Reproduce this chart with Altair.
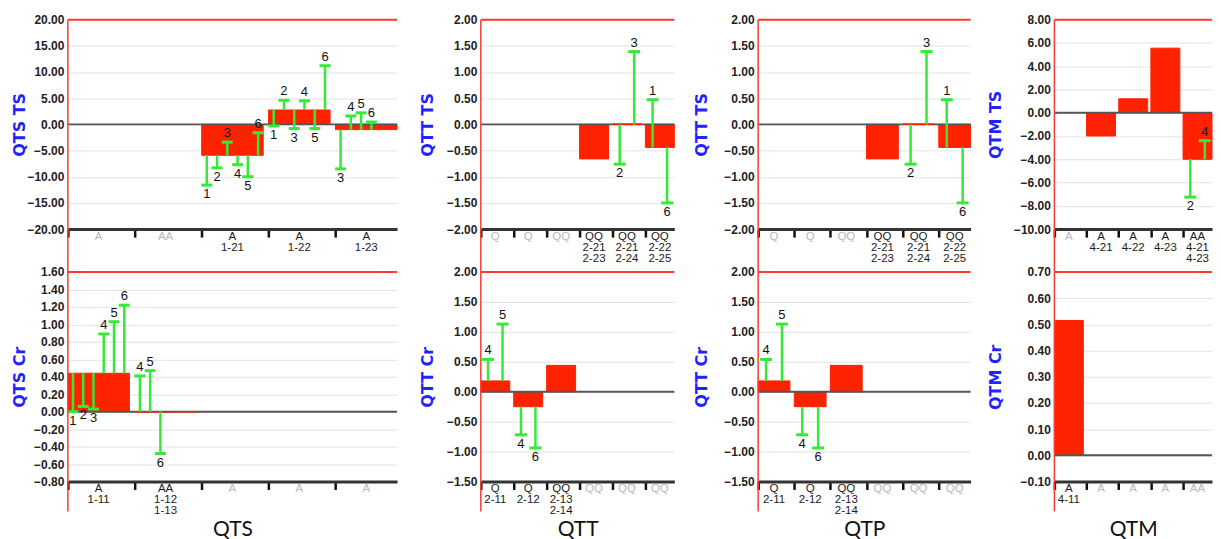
import altair as alt
import pandas as pd

BAR_RED = "#ff2200"
FRAME_RED = "#ff3b2f"
GREEN = "#35ea35"
TITLE_BLUE = "#1f24ff"

# ---------------- data ----------------
# QTS TS
qts_ts_cats = ["A#1", "AA#2", "A|1-21", "A|1-22", "A|1-23"]
qts_ts_bars = [None, None, -5.9, 2.75, -1.0]
qts_ts_err_cat = ["A|1-21"] * 6 + ["A|1-22"] * 6 + ["A|1-23"] * 4
qts_ts_err_slot = [1, 2, 3, 4, 5, 6, 1, 2, 3, 4, 5, 6, 1, 2, 3, 4]
qts_ts_err_lab = ["1", "2", "3", "4", "5", "6", "1", "2", "3", "4", "5", "6", "3", "4", "5", "6"]
qts_ts_err_end = [-11.6, -8.3, -3.4, -7.7, -10.0, -1.6,
                  -0.3, 4.6, -0.8, 4.5, -0.8, 11.2,
                  -8.5, 1.6, 2.2, 0.45]
qts_ts_ticks = [-20, -15, -10, -5, 0, 5, 10, 15, 20]

# QTS Cr
qts_cr_cats = ["A|1-11", "AA|1-12|1-13", "A#3", "A#4", "A#5"]
qts_cr_bars = [0.44, 0.0, None, None, None]
qts_cr_err_cat = ["A|1-11"] * 6 + ["AA|1-12|1-13"] * 3
qts_cr_err_slot = [1, 2, 3, 4, 5, 6, 1, 2, 3]
qts_cr_err_lab = ["1", "2", "3", "4", "5", "6", "4", "5", "6"]
qts_cr_err_end = [0.0, 0.06, 0.03, 0.89, 1.03, 1.22, 0.41, 0.47, -0.48]
qts_cr_ticks = [-0.8, -0.6, -0.4, -0.2, 0.0, 0.2, 0.4, 0.6, 0.8, 1.0, 1.2, 1.4, 1.6]

# QTT TS (also shown for QTP)
qtt_ts_cats = ["Q#1", "Q#2", "QQ#3", "QQ|2-21|2-23", "QQ|2-21|2-24", "QQ|2-22|2-25"]
qtt_ts_bars = [None, None, None, -0.66, 0.0, -0.44]
qtt_ts_err_cat = ["QQ|2-21|2-24", "QQ|2-21|2-24", "QQ|2-22|2-25", "QQ|2-22|2-25"]
qtt_ts_err_slot = [1, 2, 1, 2]
qtt_ts_err_lab = ["2", "3", "1", "6"]
qtt_ts_err_end = [-0.76, 1.39, 0.47, -1.50]
qtt_ts_ticks = [-2.0, -1.5, -1.0, -0.5, 0.0, 0.5, 1.0, 1.5, 2.0]

# QTT Cr (also shown for QTP)
qtt_cr_cats = ["Q|2-11", "Q|2-12", "QQ|2-13|2-14", "QQ#4", "QQ#5", "QQ#6"]
qtt_cr_bars = [0.18, -0.25, 0.44, None, None, None]
qtt_cr_err_cat = ["Q|2-11", "Q|2-11", "Q|2-12", "Q|2-12"]
qtt_cr_err_slot = [1, 2, 1, 2]
qtt_cr_err_lab = ["4", "5", "4", "6"]
qtt_cr_err_end = [0.54, 1.13, -0.72, -0.94]
qtt_cr_ticks = [-1.5, -1.0, -0.5, 0.0, 0.5, 1.0, 1.5, 2.0]

# QTM TS
qtm_ts_cats = ["A#1", "A|4-21", "A|4-22", "A|4-23", "AA|4-21|4-23"]
qtm_ts_bars = [None, -2.0, 1.2, 5.55, -4.0]
qtm_ts_err_cat = ["AA|4-21|4-23", "AA|4-21|4-23"]
qtm_ts_err_slot = [1, 2]
qtm_ts_err_lab = ["2", "4"]
qtm_ts_err_end = [-7.25, -2.4]
qtm_ts_ticks = [-10, -8, -6, -4, -2, 0, 2, 4, 6, 8]

# QTM Cr
qtm_cr_cats = ["A|4-11", "A#2", "A#3", "A#4", "AA#5"]
qtm_cr_bars = [0.515, None, None, None, None]
qtm_cr_err_cat = []
qtm_cr_err_slot = []
qtm_cr_err_lab = []
qtm_cr_err_end = []
qtm_cr_ticks = [-0.1, 0.0, 0.1, 0.2, 0.3, 0.4, 0.5, 0.6, 0.7]

H = 210
W = [330, 194, 213, 158]
TITLE_X = [-40, -45, -49, -51]


def panel(cats, bars, ecat, eslot, elab, eend, ticks, ytitle, width, title_x,
          nslots, band, cap, xtitle=None, left_ext=30):
    n = len(cats)
    idx_of = {c: i for i, c in enumerate(cats)}
    lab_df = pd.DataFrame({
        "idx": list(range(n)),
        "label": [c.split("#")[0] for c in cats],
        "grey": ["#" in c for c in cats],
    })
    bar_df = pd.DataFrame({"idx": list(range(n)), "val": bars}).dropna()
    start = dict(zip(bar_df["idx"], bar_df["val"]))
    err_df = pd.DataFrame({"idx": [idx_of[c] for c in ecat], "slot": eslot,
                           "lab": elab, "end": eend})
    if len(err_df):
        err_df["start"] = err_df["idx"].map(start)

    yscale = alt.Scale(domain=[min(ticks), max(ticks)], nice=False)
    yaxis = alt.Axis(
        values=ticks, grid=True, gridColor="#e3e3e3", gridWidth=1,
        ticks=False, domain=False, format=".2f",
        labelFont="Liberation Sans", labelFontSize=12, labelFontWeight="bold",
        labelColor="#222222", labelPadding=4,
        title=ytitle, titleColor=TITLE_BLUE, titleFont="DejaVu Sans",
        titleFontSize=16, titleFontWeight="bold",
        titleX=title_x, titleY=H / 2,
    )
    xscale = alt.Scale(domain=[0, n - 1 + band], nice=False, zero=False)
    xkw = dict(values=list(range(n)), labels=False, ticks=True, tickColor="#111111",
               tickWidth=2.5, tickSize=8, domainColor="#333333", domainWidth=3,
               grid=False)
    if xtitle:
        xaxis = alt.Axis(title=xtitle, titleFont="Lato", titleFontSize=21,
                         titleFontWeight="normal", titleColor="#111111",
                         titleX=width / 2, titleY=37, **xkw)
    else:
        xaxis = alt.Axis(title=None, **xkw)

    def X(f):
        return alt.X(f, type="quantitative", scale=xscale, axis=xaxis)

    def Y(f):
        return alt.Y(f, type="quantitative", scale=yscale, axis=yaxis)

    layers = []
    layers.append(
        alt.Chart(bar_df).transform_calculate(xe=f"datum.idx + {band}", base="0")
        .mark_bar(color=BAR_RED, stroke=BAR_RED, strokeWidth=1)
        .encode(x=X("idx"), x2="xe:Q", y=Y("val"), y2="base:Q")
    )
    layers.append(
        alt.Chart(pd.DataFrame({"val": [0.0]})).mark_rule(color="#555555", strokeWidth=2)
        .encode(y=Y("val"))
    )
    flat = bar_df[bar_df["val"] == 0]
    if len(flat):
        layers.append(
            alt.Chart(flat).transform_calculate(xe=f"datum.idx + {band}", base="0")
            .mark_bar(color=BAR_RED, stroke=BAR_RED, strokeWidth=1.5)
            .encode(x=X("idx"), x2="xe:Q", y=Y("val"), y2="base:Q")
        )
    if len(err_df):
        calc = f"datum.idx + (datum.slot - 0.5) * {band} / {nslots}"
        up = err_df[err_df["end"] >= err_df["start"]]
        down = err_df[err_df["end"] < err_df["start"]]
        layers.append(
            alt.Chart(err_df).transform_calculate(ex=calc)
            .mark_rule(color=GREEN, strokeWidth=2.5)
            .encode(x=X("ex"), y=Y("start"), y2="end:Q")
        )
        layers.append(
            alt.Chart(err_df).transform_calculate(ex=calc)
            .mark_tick(color=GREEN, thickness=3, size=cap, orient="horizontal", opacity=1)
            .encode(x=X("ex"), y=Y("end"))
        )
        if len(up):
            layers.append(
                alt.Chart(up).transform_calculate(ex=calc)
                .mark_text(baseline="bottom", dy=-2, font="Liberation Sans",
                           fontSize=13, color="#111111")
                .encode(x=X("ex"), y=Y("end"), text="lab:N")
            )
        if len(down):
            layers.append(
                alt.Chart(down).transform_calculate(ex=calc)
                .mark_text(baseline="top", dy=3, font="Liberation Sans",
                           fontSize=13, color="#111111")
                .encode(x=X("ex"), y=Y("end"), text="lab:N")
            )
    # category labels under the axis
    layers.append(
        alt.Chart(lab_df).transform_calculate(lx=f"datum.idx + {band} / 2")
        .mark_text(baseline="top", lineBreak="|", font="Liberation Sans",
                   fontSize=11.5, lineHeight=11)
        .encode(x=X("lx"), y=alt.value(H + 2), text="label:N",
                color=alt.condition("datum.grey", alt.value("#b8b8b8"), alt.value("#1a1a1a")))
    )
    one = pd.DataFrame({"k": [0]})
    layers.append(
        alt.Chart(one).mark_rule(color=FRAME_RED, strokeWidth=2)
        .encode(x=alt.value(0), x2=alt.value(width), y=alt.value(0))
    )
    layers.append(
        alt.Chart(one).mark_rule(color=FRAME_RED, strokeWidth=1.5)
        .encode(x=alt.value(0), y=alt.value(0), y2=alt.value(H + left_ext))
    )
    return alt.layer(*layers).properties(width=width, height=H)


panels = [
    panel(qts_ts_cats, qts_ts_bars, qts_ts_err_cat, qts_ts_err_slot, qts_ts_err_lab,
          qts_ts_err_end, qts_ts_ticks, "QTS TS", W[0], TITLE_X[0], 6, 0.92, 11, left_ext=43),
    panel(qtt_ts_cats, qtt_ts_bars, qtt_ts_err_cat, qtt_ts_err_slot, qtt_ts_err_lab,
          qtt_ts_err_end, qtt_ts_ticks, "QTT TS", W[1], TITLE_X[1], 2, 0.88, 12, left_ext=43),
    panel(qtt_ts_cats, qtt_ts_bars, qtt_ts_err_cat, qtt_ts_err_slot, qtt_ts_err_lab,
          qtt_ts_err_end, qtt_ts_ticks, "QTT TS", W[2], TITLE_X[2], 2, 0.88, 12, left_ext=43),
    panel(qtm_ts_cats, qtm_ts_bars, qtm_ts_err_cat, qtm_ts_err_slot, qtm_ts_err_lab,
          qtm_ts_err_end, qtm_ts_ticks, "QTM TS", W[3], TITLE_X[3], 2, 0.9, 12, left_ext=43),
    panel(qts_cr_cats, qts_cr_bars, qts_cr_err_cat, qts_cr_err_slot, qts_cr_err_lab,
          qts_cr_err_end, qts_cr_ticks, "QTS Cr", W[0], TITLE_X[0], 6, 0.92, 11, "QTS"),
    panel(qtt_cr_cats, qtt_cr_bars, qtt_cr_err_cat, qtt_cr_err_slot, qtt_cr_err_lab,
          qtt_cr_err_end, qtt_cr_ticks, "QTT Cr", W[1], TITLE_X[1], 2, 0.88, 12, "QTT"),
    panel(qtt_cr_cats, qtt_cr_bars, qtt_cr_err_cat, qtt_cr_err_slot, qtt_cr_err_lab,
          qtt_cr_err_end, qtt_cr_ticks, "QTT Cr", W[2], TITLE_X[2], 2, 0.88, 12, "QTP"),
    panel(qtm_cr_cats, qtm_cr_bars, qtm_cr_err_cat, qtm_cr_err_slot, qtm_cr_err_lab,
          qtm_cr_err_end, qtm_cr_ticks, "QTM Cr", W[3], TITLE_X[3], 2, 0.9, 12, "QTM"),
]

chart = alt.concat(
    *panels, columns=4, spacing={"row": 43, "column": 84},
    bounds="flush", align="each",
).properties(
    padding={"left": 4, "top": 5, "right": 0, "bottom": 0},
    background="white",
).configure_view(stroke=None)

chart.save("out.html", embed_options={"renderer": "svg", "actions": False})
